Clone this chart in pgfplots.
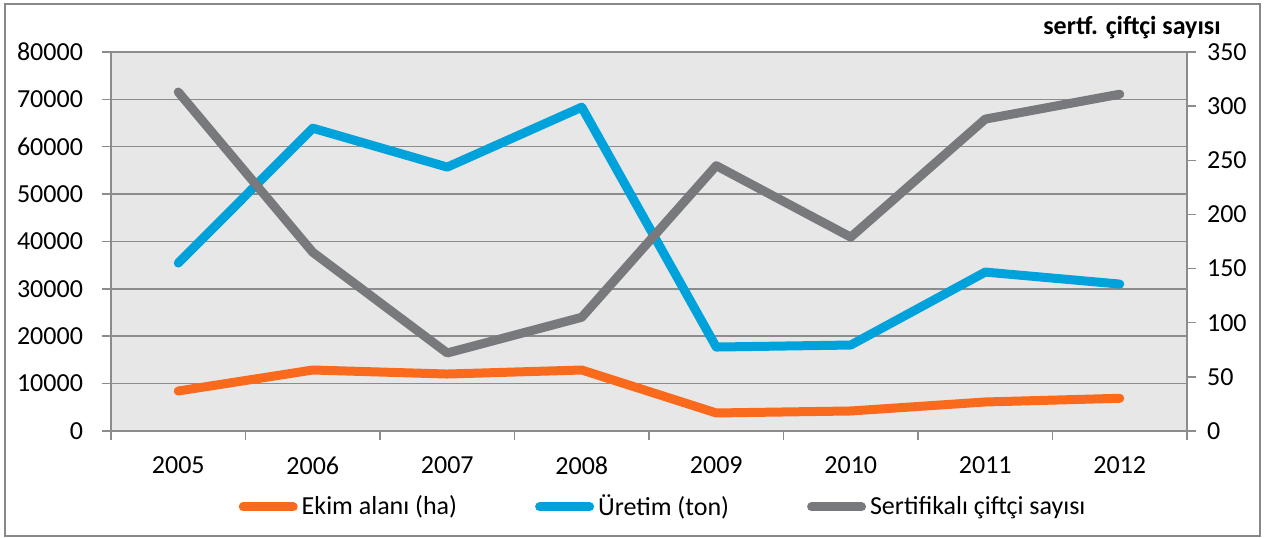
\documentclass[border=0pt]{standalone}
\usepackage{fontspec}
\setmainfont{Carlito}
\usepackage{pgfplots}
\pgfplotsset{compat=1.18}

\definecolor{ekim}{HTML}{FA6A1C}
\definecolor{uretim}{HTML}{00A2DB}
\definecolor{ciftci}{HTML}{78797C}
\definecolor{plotbg}{HTML}{E7E7E7}
\definecolor{gridc}{HTML}{8C8C8C}
\definecolor{bordc}{HTML}{888888}

\pgfplotsset{
  base/.style={
    scale only axis, width=538pt, height=189.5pt,
    xmin=-0.5, xmax=7.5, ymin=0,
    tick align=outside, major tick length=4.5pt,
    tick style={draw=gridc, line width=0.75pt},
    axis line style={draw=gridc, line width=0.75pt},
    /pgf/number format/assume math mode=true,
    scaled y ticks=false,
    /pgf/number format/fixed, /pgf/number format/1000 sep={},
    ticklabel style={font=\fontsize{13}{15}\selectfont},
  },
  serie/.style={line width=4.5pt, line cap=round, line join=round, mark=none},
}

\begin{document}
\begin{tikzpicture}
\begin{axis}[base, name=main,
  ymax=80000, ytick={0,10000,...,80000},
  axis background/.style={fill=plotbg},
  ymajorgrids, major grid style={draw=gridc, line width=0.75pt},
  axis y line*=left, axis x line*=bottom,
  xtick={-0.5,0.5,...,7.5}, x tick label as interval,
  xticklabels={2005,2006,2007,2008,2009,2010,2011,2012},
  xticklabel style={yshift=-5pt},
  yticklabel style={xshift=-6pt},
  legend style={at={(0.514,-0.2005)}, anchor=center, draw=none, fill=none,
    legend columns=3, font=\fontsize{13}{15}\selectfont,
    /tikz/every even column/.append style={column sep=37pt}},
  legend cell align=left,
  legend image code/.code={\draw[#1, line cap=round] (0pt,0pt) -- (25pt,0pt);},
]
\addplot[serie, ekim] coordinates {
  (0,8440) (1,12870) (2,12020) (3,12870) (4,3800) (5,4220) (6,6120) (7,6900)
};
\addlegendentry{Ekim alanı (ha)}
\addplot[serie, uretim] coordinates {
  (0,35440) (1,63920) (2,55700) (3,68350) (4,17720) (5,18140) (6,33540) (7,31010)
};
\addlegendentry{Üretim (ton)}
\addlegendimage{serie, ciftci}
\addlegendentry{Sertifikalı çiftçi sayısı}
\end{axis}

\begin{axis}[base, at={(main.south west)}, anchor=south west,
  ymax=350, ytick={0,50,...,350}, clip=false,
  axis y line*=right, axis x line=none,
  yticklabel style={xshift=2pt},
]
\addplot[serie, ciftci] coordinates {
  (0,313) (1,165) (2,72) (3,105) (4,245) (5,179) (6,288) (7,311)
};
\node[font=\fontsize{13}{15}\selectfont\bfseries, anchor=center]
  at ([xshift=-27.5pt, yshift=12pt]rel axis cs:1,1) {sertf. çiftçi sayısı};
\end{axis}

\draw[bordc, line width=0.75pt]
  ([shift={(-53pt,-52.5pt)}]main.south west) rectangle
  ([shift={(36.5pt,24pt)}]main.north east);
\pgfresetboundingbox
\path[use as bounding box]
  ([shift={(-55.5pt,-53.5pt)}]main.south west) rectangle
  ([shift={(38.5pt,26pt)}]main.north east);
\end{tikzpicture}
\end{document}
